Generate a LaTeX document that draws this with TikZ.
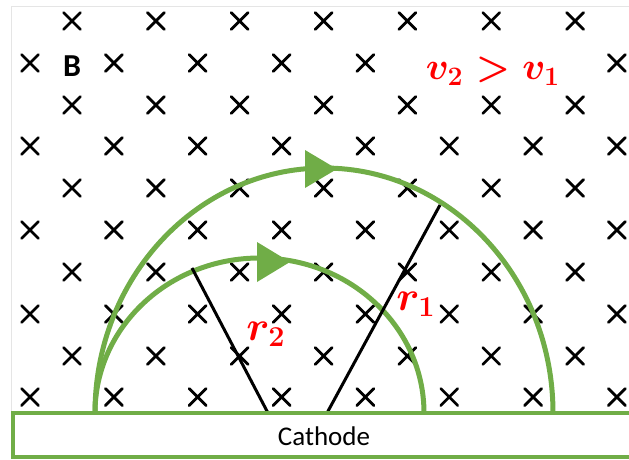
\documentclass[tikz,border=0pt]{standalone}
\usepackage{fontspec}
\setmainfont{Carlito}
\usepackage{graphicx}
\definecolor{pgreen}{HTML}{70AD47}
\definecolor{pred}{HTML}{FF0000}
\newcommand{\biglbl}[1]{\scalebox{2}{\fontsize{20}{24}\selectfont\boldmath$#1$}}
\begin{document}
\begin{tikzpicture}[x=1pt,y=1pt,
  xmark/.style={line width=2.8pt, line cap=round},
  orbit/.style={draw=pgreen, line width=5pt},
  orbithead/.style={fill=pgreen},
  radline/.style={line width=3pt},
  mathlbl/.style={text=pred, inner sep=0pt},
  xm/.pic={\draw[xmark] (-8.5,-8.5) -- (8.5,8.5) (-8.5,8.5) -- (8.5,-8.5);}
]
\useasboundingbox (0,-459) rectangle (629,0);
\draw[gray!20, line width=1pt] (11,-459) -- (11,-6) -- (629,-6);
% crosses
\foreach \yy in {21,105,188,272,356}{
  \foreach \k in {0,...,6}{ \pic at ({72+83.85*\k},-\yy) {xm}; }
}
\foreach \yy in {146,230,314,397}{
  \foreach \k in {0,...,7}{ \pic at ({30+83.85*\k},-\yy) {xm}; }
}
\foreach \k in {0,1,2,3,4,7}{ \pic at ({30+83.85*\k},-63) {xm}; }
% labels
\node[inner sep=0pt, font=\fontsize{32}{36}\selectfont\bfseries] (B) at (72,-66) {B};
\node[mathlbl] (vlbl) at (493,-71) {\scalebox{1.85}{\fontsize{20}{24}\selectfont\boldmath$v_2 > v_1$}};
% orbits
\coordinate (start) at (95,-413);
\draw[orbit] (start) arc[start angle=180, end angle=0, x radius=229, y radius=245] coordinate (outerend);
\draw[orbit] (start) arc[start angle=180, end angle=0, x radius=164.5, y radius=155] coordinate (innerend);
\fill[orbithead] (305,-150) -- (337,-169) -- (305,-188) -- cycle;
\fill[orbithead] (257,-242) -- (290,-262) -- (257,-282) -- cycle;
% radius lines
\coordinate (r2top) at (192,-268);
\coordinate (r2base) at (268,-413);
\coordinate (r1top) at (440,-205);
\coordinate (r1base) at (327,-413);
\draw[radline] (r2top) -- (r2base);
\draw[radline] (r1base) -- (r1top);
\node[mathlbl] (r2lbl) at (266,-334) {\biglbl{r_2}};
\node[mathlbl] (r1lbl) at (416,-304) {\biglbl{r_1}};
% cathode
\draw[draw=pgreen, line width=3.5pt, fill=white] (13,-413) rectangle (660,-457);
\node[font=\fontsize{27}{30}\selectfont] (cathode) at (324,-436) {Cathode};
\end{tikzpicture}
\end{document}
